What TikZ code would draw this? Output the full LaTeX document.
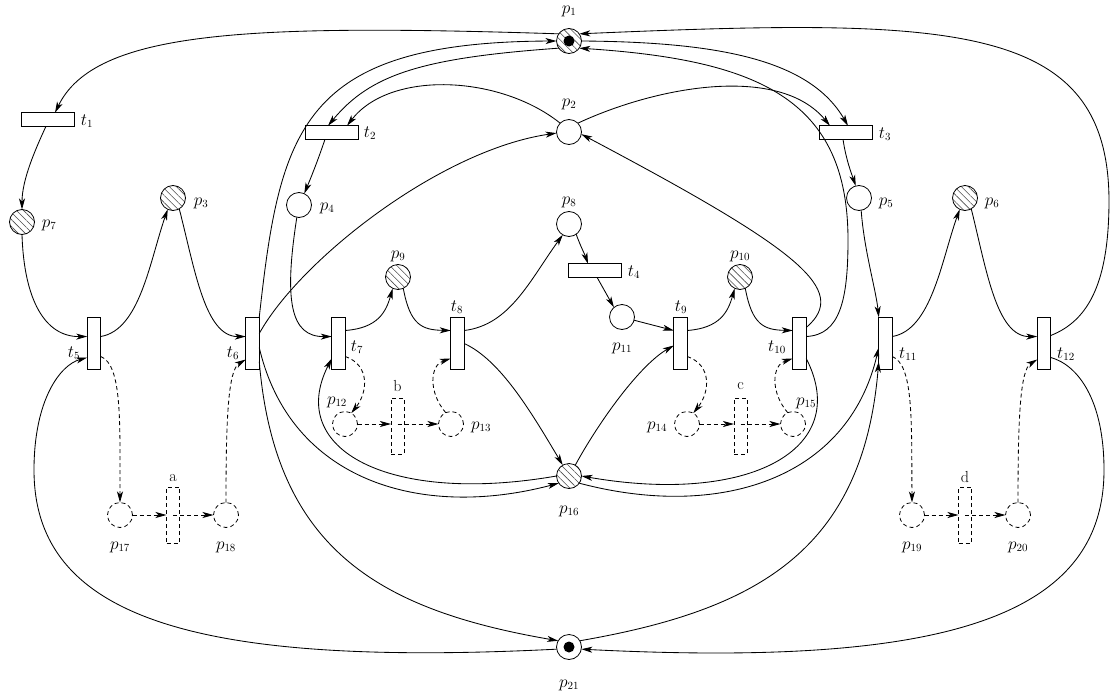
\documentclass[tikz,border=0pt]{standalone}
\usetikzlibrary{arrows.meta,calc,patterns.meta}
\begin{document}
\begin{tikzpicture}[x=1pt,y=-1pt,
  place/.style={circle,draw,line width=.8pt,minimum size=25pt,inner sep=0pt,outer sep=0pt},
  hplace/.style={place,pattern={Lines[angle=-45,distance=5pt,line width=.6pt]},pattern color=black!70},
  dplace/.style={place,dash pattern=on 4pt off 3pt},
  token/.style={circle,fill=black,minimum size=11pt,inner sep=0pt},
  vtrans/.style={rectangle,draw,line width=.8pt,minimum width=13.5pt,minimum height=52.5pt,inner sep=0pt,outer sep=0pt},
  htrans/.style={rectangle,draw,line width=.8pt,minimum width=52.5pt,minimum height=13.5pt,inner sep=0pt,outer sep=0pt},
  dtrans/.style={vtrans,dash pattern=on 4pt off 3pt,minimum width=13pt,minimum height=56pt},
  arc/.style={-{Stealth[length=11pt,width=6pt,inset=3pt]},line width=.85pt},
  darc/.style={arc,dash pattern=on 4pt off 3pt},
  lab/.style={inner sep=0pt,font=\fontsize{16}{19}\selectfont}]
\useasboundingbox (0,0) rectangle (1111,696);

% places
\node[hplace] (p1) at (569,41) {};
\node[token] (k1) at (p1) {};
\node[place] (p2) at (569,132) {};
\node[hplace] (p3) at (173,198) {};
\node[place] (p4) at (299,205) {};
\node[place] (p5) at (859,198) {};
\node[hplace] (p6) at (965,198) {};
\node[hplace] (p7) at (22,222) {};
\node[place] (p8) at (569,224) {};
\node[hplace] (p9) at (398,277) {};
\node[hplace] (p10) at (740,277) {};
\node[place] (p11) at (622,317) {};
\node[dplace] (p12) at (345,424) {};
\node[dplace] (p13) at (451,424) {};
\node[dplace] (p14) at (687,424) {};
\node[dplace] (p15) at (793,424) {};
\node[hplace] (p16) at (569,476) {};
\node[dplace] (p17) at (120,515) {};
\node[dplace] (p18) at (226,515) {};
\node[dplace] (p19) at (912,515) {};
\node[dplace] (p20) at (1018,515) {};
\node[place] (p21) at (569,647) {};
\node[token] (k21) at (p21) {};

% transitions
\node[htrans] (t1) at (48,119.5) {};
\node[htrans] (t2) at (332,132.5) {};
\node[htrans] (t3) at (846,132.5) {};
\node[htrans] (t4) at (595,270.5) {};
\node[vtrans] (t5) at (94,343.5) {};
\node[vtrans] (t6) at (252.5,343.5) {};
\node[vtrans] (t7) at (338.5,343.5) {};
\node[vtrans] (t8) at (457.5,343.5) {};
\node[vtrans] (t9) at (680.5,343.5) {};
\node[vtrans] (t10) at (799.5,343.5) {};
\node[vtrans] (t11) at (885.5,343.5) {};
\node[vtrans] (t12) at (1044,343.5) {};
\node[dtrans] (a) at (173,515) {};
\node[dtrans] (b) at (397.5,426) {};
\node[dtrans] (c) at (740.5,426) {};
\node[dtrans] (d) at (965,515) {};

% labels
\node[lab] (lp1) at (569,11) {$p_1$};
\node[lab] (lp2) at (569,104) {$p_2$};
\node[lab] (lp3) at (201,203) {$p_3$};
\node[lab] (lp4) at (327,208) {$p_4$};
\node[lab] (lp5) at (886,203) {$p_5$};
\node[lab] (lp6) at (992,203) {$p_6$};
\node[lab] (lp7) at (49,225) {$p_7$};
\node[lab] (lp8) at (569,202) {$p_8$};
\node[lab] (lp9) at (398,256) {$p_9$};
\node[lab] (lp10) at (740,256) {$p_{10}$};
\node[lab] (lp11) at (622,348) {$p_{11}$};
\node[lab] (lp12) at (337,402) {$p_{12}$};
\node[lab] (lp13) at (481,427) {$p_{13}$};
\node[lab] (lp14) at (657,427) {$p_{14}$};
\node[lab] (lp15) at (806,403) {$p_{15}$};
\node[lab] (lp16) at (569,511) {$p_{16}$};
\node[lab] (lp17) at (120,547) {$p_{17}$};
\node[lab] (lp18) at (226,547) {$p_{18}$};
\node[lab] (lp19) at (912,547) {$p_{19}$};
\node[lab] (lp20) at (1018,547) {$p_{20}$};
\node[lab] (lp21) at (569,685) {$p_{21}$};
\node[lab] (lt1) at (87,121) {$t_1$};
\node[lab] (lt2) at (370,133) {$t_2$};
\node[lab] (lt3) at (885,134) {$t_3$};
\node[lab] (lt4) at (634,272) {$t_4$};
\node[lab] (lt5) at (74,353) {$t_5$};
\node[lab] (lt6) at (233,353) {$t_6$};
\node[lab] (lt7) at (357,347) {$t_7$};
\node[lab] (lt8) at (457,307) {$t_8$};
\node[lab] (lt9) at (681,307) {$t_9$};
\node[lab] (lt10) at (777,347) {$t_{10}$};
\node[lab] (lt11) at (908,354) {$t_{11}$};
\node[lab] (lt12) at (1066,354) {$t_{12}$};
\node[lab] (la) at (173,478) {a};
\node[lab] (lb) at (397.5,386) {b};
\node[lab] (lc) at (740.5,386) {c};
\node[lab] (ld) at (965,477) {d};

% upper arcs
\draw[arc] (p1.145) .. controls (250,24) and (95,30) .. ($(t1.north)+(7,0)$);
\draw[arc] ($(t1.south)+(-2,0)$) .. controls (35,150) and (22,180) .. (p7.north);
\draw[arc] (p7.south) .. controls (24,300) and (45,337) .. ($(t5.west)+(0,-7)$);
\draw[arc] ($(t5.east)+(0,-7)$) .. controls (140,330) and (150,260) .. (p3.245);
\draw[arc] (p3.-60) .. controls (195,270) and (205,337) .. ($(t6.west)+(0,-7)$);
\draw[arc] (t6.north east) .. controls (280,130) and (300,42) .. (p1.180);
\draw[arc] ($(t6.east)+(0,-10)$) .. controls (300,260) and (440,150) .. (p2.185);
\draw[arc] (p1.215) .. controls (420,58) and (370,75) .. ($(t2.north)+(-4,0)$);
\draw[arc] (p2.135) .. controls (500,75) and (390,70) .. ($(t2.north)+(15,0)$);
\draw[arc] ($(t2.south)+(-7,0)$) .. controls (318,160) and (312,175) .. (p4.65);
\draw[arc] (p1.0) .. controls (720,42) and (810,60) .. ($(t3.north)+(2,0)$);
\draw[arc] (p2.45) .. controls (660,85) and (780,65) .. ($(t3.north)+(-16,0)$);
\draw[arc] ($(t3.south)+(-3,0)$) .. controls (846,160) and (852,175) .. (p5.105);
\draw[arc] (p5.-80) .. controls (864,250) and (876,290) .. (t11.north west);
\draw[arc] ($(t11.east)+(0,-7)$) .. controls (931.5,330) and (941.5,260) .. (p6.245);
\draw[arc] (p6.-60) .. controls (986.5,270) and (996.5,337) .. ($(t12.west)+(0,-7)$);
\draw[arc] ($(t12.east)+(0,-8)$) .. controls (1090,320) and (1109,280) .. (1109,200) .. controls (1108,20) and (950,18) .. (p1.35);
\draw[arc] ($(t10.east)+(0,-7)$) .. controls (840,335) and (848,300) .. (848,240) .. controls (848,100) and (760,60) .. (p1.-35);
\draw[arc] ($(t10.east)+(0,-16)$) .. controls (850,290) and (800,250) .. (p2.-10);

% lower solid arcs
\draw[arc] ($(t6.east)+(0,4)$) .. controls (290,480) and (420,520) .. (p16.215);
\draw[arc] (p16.180) .. controls (390,505) and (285,450) .. ($(t7.west)+(0,15)$);
\draw[arc] ($(t10.east)+(0,15)$) .. controls (853,450) and (748,505) .. (p16.0);
\draw[arc] (p16.-35) .. controls (718,520) and (848,480) .. ($(t11.west)+(0,4)$);
\draw[arc] ($(t6.east)+(0,18)$) .. controls (275,550) and (380,610) .. (p21.150);
\draw[arc] (p21.30) .. controls (758,610) and (863,550) .. ($(t11.west)+(0,18)$);
\draw[arc] (p21.190) .. controls (200,667) and (34,620) .. (34,470) .. controls (34,400) and (60,365) .. ($(t5.west)+(0,14)$);
\draw[arc] ($(t12.east)+(0,14)$) .. controls (1078,365) and (1104,400) .. (1104,470) .. controls (1104,620) and (938,667) .. (p21.-10);

% centre arcs
\draw[arc] (p4.-100) .. controls (284,300) and (290,337) .. ($(t7.west)+(0,-7)$);
\draw[arc] ($(t7.east)+(0,-13)$) .. controls (378,328) and (386,312) .. (p9.245);
\draw[arc] (p9.-65) .. controls (410,325) and (422,330) .. ($(t8.west)+(0,-13)$);
\draw[arc] ($(t8.east)+(0,-13)$) .. controls (510,325) and (530,280) .. (p8.240);
\draw[arc] (p8.-55) .. controls (580,245) and (585,255) .. ($(t4.north)+(-7,0)$);
\draw[arc] ($(t4.south)+(2,0)$) -- (p11.130);
\draw[arc] (p11.-15) -- ($(t9.west)+(0,-13)$);
\draw[arc] (p16.60) .. controls (600,420) and (640,365) .. ($(t9.west)+(0,2)$);
\draw[arc] (t8.east) .. controls (500,360) and (530,410) .. (p16.120);
\draw[arc] ($(t9.east)+(0,-13)$) .. controls (720,328) and (728,312) .. (p10.245);
\draw[arc] (p10.-65) .. controls (752,325) and (764,330) .. ($(t10.west)+(0,-13)$);

% dashed arcs
\draw[darc] ($(t7.east)+(0,13)$) .. controls (370,365) and (368,392) .. (p12.60);
\draw[darc] (p12.east) -- (p12.east -| b.west);
\draw[darc] (p13.west -| b.center) -- (p13.west);
\draw[darc] (p13.115) .. controls (428,392) and (430,365) .. ($(t8.west)+(0,15)$);
\draw[darc] ($(t9.east)+(0,13)$) .. controls (712,365) and (710,392) .. (p14.60);
\draw[darc] (p14.east) -- (p14.east -| c.west);
\draw[darc] (p15.west -| c.center) -- (p15.west);
\draw[darc] (p15.115) .. controls (770,392) and (772,365) .. ($(t10.west)+(0,15)$);
\draw[darc] ($(t5.east)+(0,13)$) .. controls (122,365) and (120,420) .. (p17.north);
\draw[darc] (p17.east) -- (p17.east -| a.west);
\draw[darc] (p18.west -| a.center) -- (p18.west);
\draw[darc] (p18.north) .. controls (226,420) and (228,370) .. ($(t6.west)+(0,16)$);
\draw[darc] ($(t11.east)+(0,13)$) .. controls (913.5,365) and (911.5,420) .. (p19.north);
\draw[darc] (p19.east) -- (p19.east -| d.west);
\draw[darc] (p20.west -| d.center) -- (p20.west);
\draw[darc] (p20.north) .. controls (1018,420) and (1020,370) .. ($(t12.west)+(0,16)$);
\end{tikzpicture}
\end{document}
